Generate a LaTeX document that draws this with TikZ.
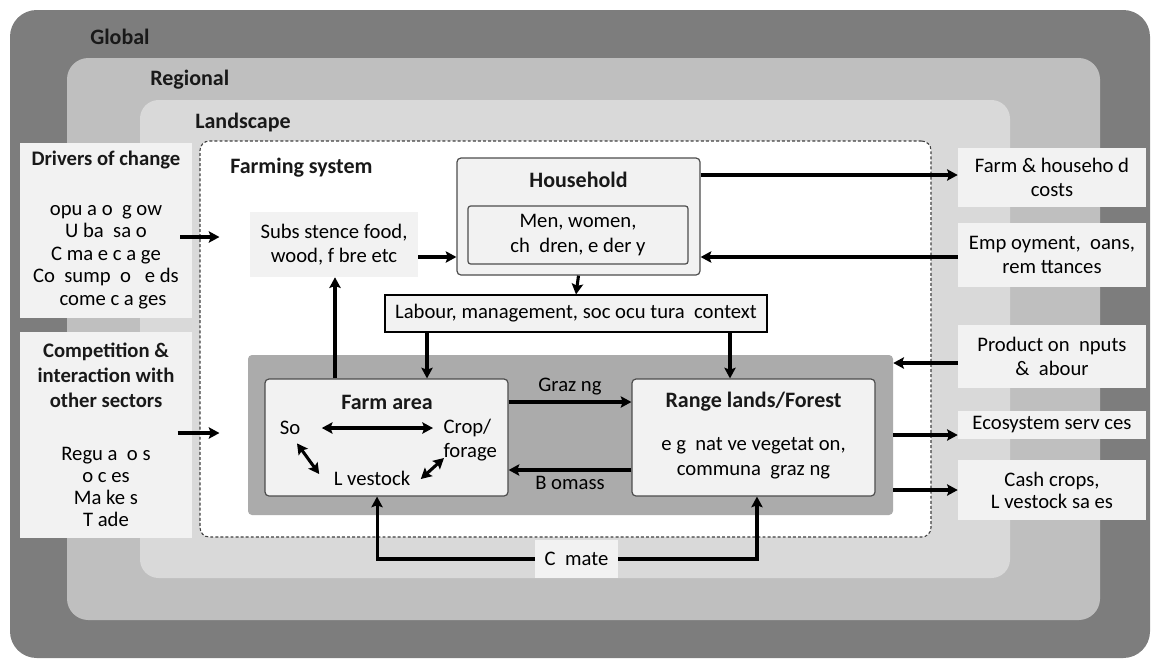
\documentclass[tikz,border=0pt]{standalone}
\usepackage{fontspec}
\setmainfont{Carlito}
\usetikzlibrary{arrows.meta}
\definecolor{cglobal}{HTML}{7D7D7D}
\definecolor{cregional}{HTML}{BFBFBF}
\definecolor{clandscape}{HTML}{D9D9D9}
\definecolor{cgraybox}{HTML}{ABABAB}
\definecolor{cbox}{HTML}{F2F2F2}
\definecolor{cborder}{HTML}{4D4D4D}
\tikzset{
  body/.style={font=\fontsize{15.5}{17}\selectfont, text=black},
  ttl/.style={font=\fontsize{16.5}{19}\selectfont\bfseries, text=black!90},
  ttls/.style={font=\fontsize{15.5}{18.75}\selectfont\bfseries, text=black!90},
  layerlbl/.style={font=\fontsize{16.5}{19}\selectfont\bfseries, text=black!90, anchor=west, inner sep=0},
  sidebox/.style={fill=cbox, draw=none, inner sep=0, align=center, body},
  framebox/.style={fill=cbox, draw=cborder, line width=0.9pt, rounded corners=3pt, inner sep=0},
  tip/.tip={Stealth[length=8pt,width=8.5pt,inset=1.5pt]},
  arr/.style={line width=2.3pt, -tip},
  darr/.style={line width=2.3pt, tip-tip},
}
\begin{document}
\begin{tikzpicture}[x=0.75pt,y=-0.75pt]
\useasboundingbox (0,0) rectangle (1159,661);
% layers
\fill[cglobal, rounded corners=20pt] (10,10) rectangle (1150,658);
\fill[cregional, rounded corners=16pt] (67,58) rectangle (1100,620);
\fill[clandscape, rounded corners=14pt] (140,100) rectangle (1010,578);
\node[layerlbl] (lglobal) at (90,37) {Global};
\node[layerlbl] (lregional) at (150,80) {Regional};
\node[layerlbl] (llandscape) at (195,123) {Landscape};
% farming system
\node[draw=black!75, dash pattern=on 2.2pt off 1.6pt, line width=0.8pt, fill=white, rounded corners=7pt,
      minimum width=548.25pt, minimum height=297pt, inner sep=0] (fs) at (565.5,339) {};
\node[layerlbl] (lfs) at (230,168) {Farming system};
% left boxes
\node[sidebox, minimum width=129pt, minimum height=131.25pt] (drv) at (106,230.5) {};
\node[ttls] (drvT) at (106,160) {Drivers of change};
\node[body, align=center, font=\fontsize{15.5}{16.9}\selectfont] (drvL) at (106,257)
  {opu a o~ g ow\\U ba~ sa o\\C ma e c a ge\\Co~ sump~ o~~ e ds\\~~ come c a ges};
\node[sidebox, minimum width=129pt, minimum height=154.5pt] (cmp) at (106,435) {};
\node[ttls, align=center] (cmpT) at (106,375) {Competition \&\\interaction with\\other sectors};
\node[body, align=center, font=\fontsize{15.5}{16.7}\selectfont] (cmpL) at (106,487)
  {Regu a~ o s\\o c es\\Ma ke s\\T ade};
% subsistence & household
\node[sidebox, minimum width=126pt, minimum height=48.75pt, font=\fontsize{15.5}{18.5}\selectfont] (sub) at (334,244.5)
  {Subs stence food,\\wood, f bre etc};
\node[framebox, minimum width=182.25pt, minimum height=87.75pt] (hh) at (578.5,216.5) {};
\node[ttl] (hhT) at (578.5,180) {Household};
\node[framebox, rounded corners=2pt, minimum width=165pt, minimum height=43.5pt, body, align=center,
      font=\fontsize{15.5}{19}\selectfont] (hhin) at (578,235) {Men, women,\\ch~ dren, e der y};
% labour
\node[fill=cbox, draw=black, line width=0.8pt, minimum width=286.5pt, minimum height=27.75pt, inner sep=0, body] (lab)
  at (576,313.5) {Labour, management, soc ocu tura~ context};
% gray box
\node[fill=cgraybox, rounded corners=3pt, minimum width=483.75pt, minimum height=120pt, inner sep=0] (gb) at (570.5,435) {};
% farm area
\node[framebox, minimum width=182.25pt, minimum height=87.75pt] (farm) at (386.5,437.5) {};
\node[ttl] (farmT) at (387,402) {Farm area};
\node[body, inner sep=1pt] (soil) at (290,428) {So};
\node[body, align=left, anchor=west, inner sep=1pt, font=\fontsize{15.5}{18}\selectfont] (crop) at (442,440) {Crop/\\forage};
\node[body, inner sep=1pt] (live) at (372,478) {L vestock};
\draw[darr] ([shift={(20,0)}]soil.east) -- ([shift={(-9,0)}]soil.east -| crop.west);
\draw[darr] ([shift={(7,7)}]soil.south) -- ([shift={(-13,-4)}]live.west);
\draw[darr] ([shift={(2,18)}]crop.west) -- ([shift={(9,1)}]live.east);
% range lands
\node[framebox, minimum width=182.25pt, minimum height=87.75pt] (range) at (753.5,437.5) {};
\node[ttl] (rangeT) at (753.5,402) {Range lands/Forest};
\node[body, align=center, font=\fontsize{15.5}{18.5}\selectfont] (rangeL) at (753.5,458)
  {e g~ nat ve vegetat on,\\communa~ graz ng};
% grazing / biomass
\draw[arr] (farm.east |- 0,402) -- (range.west |- 0,402) node[midway, above=1pt, body] (graz) {Graz ng};
\draw[arr] (range.west |- 0,470) -- (farm.east |- 0,470) node[midway, below=0pt, body] (biom) {B omass};
% climate
\node[sidebox, minimum width=62.25pt, minimum height=28.5pt] (clim) at (576.5,559) {C~ mate};
\draw[arr] (clim.west) -| ([xshift=-7.1pt]farm.south);
\draw[arr] (clim.east) -| ([xshift=2.6pt]range.south);
% right boxes
\node[sidebox, minimum width=141pt, minimum height=44.25pt, font=\fontsize{15.5}{18.5}\selectfont] (cost) at (1052,177.5)
  {Farm \& househo d\\costs};
\node[sidebox, minimum width=141pt, minimum height=48pt, font=\fontsize{15.5}{17.5}\selectfont] (emp) at (1052,255)
  {Emp oyment,~ oans,\\rem ttances};
\node[sidebox, minimum width=141pt, minimum height=47.25pt, font=\fontsize{15.5}{17.5}\selectfont] (prod) at (1052,356.5)
  {Product on~ nputs\\\&~ abour};
\node[sidebox, minimum width=141pt, minimum height=21pt] (eco) at (1052,425) {Ecosystem serv ces};
\node[sidebox, minimum width=141pt, minimum height=45pt, font=\fontsize{15.5}{16.5}\selectfont] (cash) at (1052,490)
  {Cash crops,\\L vestock sa es};
% connectors
\draw[arr] ([xshift=-9pt]drv.east |- 0,237) -- ([xshift=15pt]fs.west |- 0,237);
\draw[arr] ([xshift=-11pt]cmp.east |- 0,433) -- ([xshift=15pt]fs.west |- 0,433);
\draw[arr] (sub.east |- 0,257) -- (hh.west |- 0,257);
\draw[arr] (hh.east |- 0,175) -- (cost.west |- 0,175);
\draw[arr] (emp.west |- 0,257) -- (hh.east |- 0,257);
\draw[arr] (hh.south) -- (lab.north);
\draw[arr] (lab.south -| 427,0) -- (farm.north -| 427,0);
\draw[arr] (lab.south -| 730,0) -- (range.north -| 730,0);
\draw[arr] (farm.north -| 335,0) -- (sub.south -| 335,0);
\draw[arr] (prod.west |- 0,363) -- (gb.east |- 0,363);
\draw[arr] (gb.east |- 0,435) -- (eco.west |- 0,435);
\draw[arr] (gb.east |- 0,490) -- (cash.west |- 0,490);
\end{tikzpicture}
\end{document}
